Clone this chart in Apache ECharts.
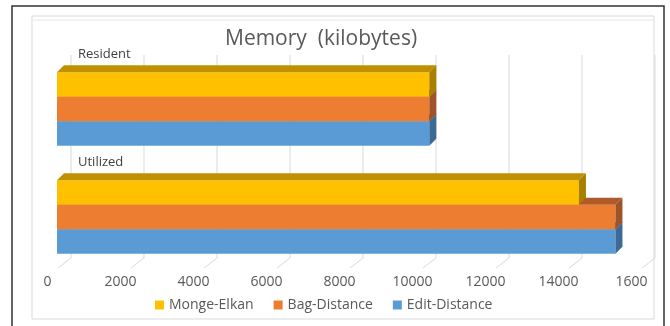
<!DOCTYPE html>
<html>
<head>
<meta charset="utf-8">
<script src="https://cdn.jsdelivr.net/npm/echarts@6/dist/echarts.min.js"></script>
<style>
  html, body { margin: 0; padding: 0; background: #fff; }
  #chart { width: 670px; height: 326px; }
</style>
</head>
<body>
<div id="chart"></div>
<script>
// data
const categories = ['Resident', 'Utilized'];
const seriesNames = ['Monge-Elkan', 'Bag-Distance', 'Edit-Distance'];
const mongeElkan = [10200, 14300];
const bagDistance = [10200, 15300];
const editDistance = [10200, 15300];
const tickValues = [0, 2000, 4000, 6000, 8000, 10000, 12000, 14000, 16000];
const tickLabels = ['0', '2000', '4000', '6000', '8000', '10000', '12000', '14000', '1600'];

const frontColors = ['#FFC000', '#ED7D31', '#5B9BD5'];
const topColors = ['#BF9000', '#B0592A', '#41719C'];
const sideColors = ['#A88000', '#9E5428', '#3D6A94'];

const DX = 7, DY = 7;

let barRender = (idx) => (params, api) => {
    let cat = api.value(1);
    let val = api.value(0);
    let start = api.coord([0, cat]);
    let end = api.coord([val, cat]);
    let band = api.size([0, 1])[1];
    let groupH = band * 0.68;
    let barH = groupH / 3;
    let yTop = start[1] - groupH / 2 + idx * barH;
    let yBot = yTop + barH;
    let x0 = start[0], x1 = end[0];
    return {
        type: 'group',
        children: [
            { type: 'rect', shape: { x: x0, y: yTop, width: x1 - x0, height: barH },
              style: { fill: frontColors[idx] } },
            { type: 'polygon', shape: { points: [[x0, yTop], [x1, yTop], [x1 + DX, yTop - DY], [x0 + DX, yTop - DY]] },
              style: { fill: topColors[idx] } },
            { type: 'polygon', shape: { points: [[x1, yTop], [x1 + DX, yTop - DY], [x1 + DX, yBot - DY], [x1, yBot]] },
              style: { fill: sideColors[idx] } }
        ]
    };
};

// back wall grid lines with the slanted floor foot
let gridRender = (params, api) => {
    let x = api.coord([api.value(0), 0])[0];
    let cs = params.coordSys;
    let bottom = cs.y + cs.height;
    return {
        type: 'polyline',
        shape: { points: [[x + 14, cs.y], [x + 14, bottom - 13], [x + 1, bottom - 3]] },
        style: { stroke: '#d9d9d9', lineWidth: 1, fill: null }
    };
};

// category names sit above each group
let catRender = (params, api) => {
    let cat = api.value(0);
    let p = api.coord([0, cat]);
    let band = api.size([0, 1])[1];
    return {
        type: 'text',
        x: p[0] + 21,
        y: p[1] - band / 2 - 1,
        style: {
            text: categories[cat],
            fill: '#404040',
            font: '13px "Open Sans"',
            textAlign: 'left',
            textVerticalAlign: 'middle'
        }
    };
};

let allValues = [mongeElkan, bagDistance, editDistance];
let series = [{
    type: 'custom',
    name: 'grid',
    silent: true,
    z: 0,
    data: tickValues.map(v => [v]),
    renderItem: gridRender
}, {
    type: 'custom',
    name: 'cats',
    silent: true,
    z: 1,
    data: categories.map((c, k) => [k]),
    renderItem: catRender
}];
seriesNames.forEach((name, i) => {
    series.push({
        type: 'custom',
        name: name,
        z: 5 - i,
        itemStyle: { color: frontColors[i] },
        encode: { x: 0, y: 1 },
        data: allValues[i].map((v, k) => [v, k]),
        renderItem: barRender(i)
    });
});

let myChart = echarts.init(document.getElementById('chart'));
myChart.setOption({
    animation: false,
    color: frontColors,
    textStyle: { fontFamily: 'Open Sans' },
    title: {
        text: 'Memory  (kilobytes)',
        left: 220,
        top: 24,
        textStyle: { fontFamily: 'Open Sans', fontSize: 21, fontWeight: 'normal', color: '#595959' }
    },
    graphic: [
        { type: 'rect', shape: { x: 12, y: 6, width: 652, height: 330 },
          style: { fill: null, stroke: '#333', lineWidth: 1.5 }, silent: true },
        { type: 'rect', shape: { x: 32, y: 16, width: 622, height: 303 },
          style: { fill: null, stroke: '#d9d9d9', lineWidth: 1 }, silent: true },
        { type: 'line', shape: { x1: 33, y1: 20, x2: 654, y2: 20 },
          style: { stroke: '#e6e6e6', lineWidth: 1 }, silent: true }
    ],
    legend: {
        data: seriesNames,
        left: 150,
        top: 293,
        icon: 'rect',
        itemWidth: 9,
        itemHeight: 9,
        itemGap: 20,
        textStyle: { fontFamily: 'Open Sans', fontSize: 14, color: '#595959' }
    },
    grid: { left: 57, right: 29, top: 55, bottom: 55 },
    xAxis: {
        type: 'value',
        min: 0,
        max: 16000,
        interval: 2000,
        axisLine: { show: false },
        axisTick: { show: false },
        splitLine: { show: false },
        axisLabel: {
            margin: 4,
            fontFamily: 'Open Sans',
            fontSize: 14,
            color: '#595959',
            padding: [0, 19, 0, 0],
            formatter: (v) => tickLabels[tickValues.indexOf(v)]
        }
    },
    yAxis: {
        type: 'category',
        data: categories,
        inverse: true,
        axisLine: { show: false },
        axisTick: { show: false },
        splitLine: { show: false },
        axisLabel: { show: false }
    },
    series: series
});
</script>
</body>
</html>
